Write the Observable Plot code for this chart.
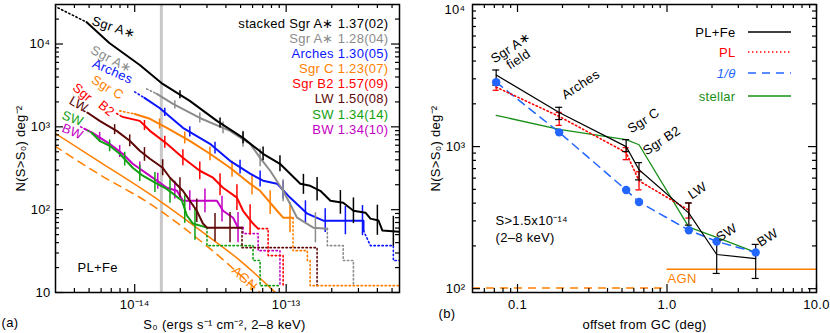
<!DOCTYPE html>
<html><head><meta charset="utf-8">
<script src="https://cdn.jsdelivr.net/npm/d3@7"></script>
<script src="https://cdn.jsdelivr.net/npm/@observablehq/plot@0.6"></script>
<style>
body{margin:0;background:#fff;}
#wrap{display:flex;width:830px;height:333px;overflow:hidden;}
svg text{letter-spacing:0.3px;}
</style></head><body><div id="wrap"></div>
<script>
// ================= DATA : panel (a) cumulative N(>S) [S erg/s/cm2, N deg^-2] =================
const sCut = 1.5e-14;
const blackHead = [[2.95e-15,2.87e4],[4.8e-15,1.84e4]];
const blackBody = [[4.8e-15,1.84e4],[6.8e-15,1.03e4],[1.08e-14,5.58e3],[1.53e-14,3.3e3],[2.31e-14,2.06e3],[3.49e-14,1.18e3],[5.19e-14,736],[7.04e-14,473],[9.1e-14,358],[1.24e-13,206],[1.44e-13,194],[1.68e-13,169],[1.96e-13,128],[2.38e-13,121],[2.78e-13,97],[3.34e-13,92],[3.6e-13,78],[4.07e-13,74],[4.32e-13,56],[5.6e-13,54]];
const blackTail = [];
const blackErrS = [1.99e-14,3.66e-14,5.19e-14,7.04e-14,9.1e-14,1.3e-13,1.6e-13,2.28e-13,2.78e-13,4.0e-13,5.1e-13];
const blackErrF = [1.12,1.15,1.18,1.21,1.25,1.32,1.39,1.39,1.43,1.52,1.52];

const greyHead = [[1.2e-14,2.87e3],[1.4e-14,2.5e3]];
const greyBody = [[1.4e-14,2.5e3],[1.79e-14,1.89e3],[2.69e-14,1.28e3],[4.26e-14,895],[5.78e-14,624],[6.73e-14,423],[7.84e-14,295],[9.55e-14,169],[1.06e-13,118],[1.18e-13,80],[1.51e-13,60.7],[1.87e-13,59]];
const greyTail = [[1.87e-13,59],[1.87e-13,36.8],[2.38e-13,36.8],[2.38e-13,24.3],[2.78e-13,24.3],[2.78e-13,12.1]];
const greyErrS = [1.84e-14,2.69e-14,3.83e-14,5.19e-14,6.73e-14,9.55e-14,1.56e-13];
const greyErrF = [1.12,1.15,1.18,1.25,1.28,1.36,1.52];

const blueHead = [[1.0e-14,2.64e3],[1.16e-14,2.24e3]];
const blueBody = [[1.16e-14,2.24e3],[1.46e-14,1.69e3],[2.08e-14,973],[3.14e-14,624],[4.26e-14,389],[5.78e-14,272],[7.04e-14,224],[8.7e-14,206],[1.06e-13,140],[1.38e-13,89.5],[1.76e-13,73.7],[3.24e-13,73.7],[3.24e-13,55.8]];
const blueTail = [[3.24e-13,55.8],[3.6e-13,36.8],[5.1e-13,36.8],[5.1e-13,24.3],[5.6e-13,24.3]];
const blueErrS = [1.58e-14,2.31e-14,3.39e-14,4.96e-14,6.73e-14,9.55e-14,1.34e-13,1.81e-13,2.46e-13,3.19e-13];
const blueErrF = [1.12,1.15,1.18,1.21,1.25,1.28,1.36,1.39,1.48,1.52];

const orangeHead = [[7.96e-15,1.56e3],[1.0e-14,1.43e3]];
const orangeBody = [[1.0e-14,1.43e3],[1.26e-14,1.25e3],[1.63e-14,973],[2.31e-14,678],[3.14e-14,473],[4.26e-14,321],[5.78e-14,206],[6.73e-14,169],[8.7e-14,97],[9.55e-14,80],[1.11e-13,80]];
const orangeTail = [[1.11e-13,80],[1.11e-13,32],[1.38e-13,32],[1.38e-13,24.3],[1.44e-13,24.3],[1.44e-13,12.1],[5.6e-13,12.1]];
const orangeErrS = [1.46e-14,2.14e-14,3.14e-14,4.39e-14,5.95e-14,7.84e-14,1.06e-13];
const orangeErrF = [1.15,1.18,1.21,1.25,1.32,1.39,1.52];

const redHead = [[7.6e-15,1.45e3],[8.3e-15,1.32e3]];
const redBody = [[8.3e-15,1.32e3],[1.08e-14,1.18e3],[1.26e-14,895],[1.63e-14,624],[2.08e-14,423],[2.69e-14,295],[3.29e-14,243],[3.83e-14,184],[4.73e-14,140],[5.19e-14,97],[6.04e-14,68],[6.53e-14,59]];
const redTail = [[6.53e-14,59],[7.6e-14,59],[7.6e-14,27.9],[9.55e-14,27.9],[9.55e-14,12.1]];
const redErrS = [1.16e-14,1.58e-14,2.08e-14,2.69e-14,3.66e-14,4.73e-14,5.78e-14];
const redErrF = [1.15,1.18,1.25,1.28,1.36,1.43,1.52];

const brownHead = [[4.6e-15,1.56e3],[4.89e-15,1.48e3]];
const brownBody = [[4.89e-15,1.48e3],[5.87e-15,1.18e3],[7.6e-15,895],[9.27e-15,678],[1.08e-14,514],[1.26e-14,412],[1.53e-14,321],[1.71e-14,243],[2.08e-14,169],[2.31e-14,128],[2.57e-14,97],[2.82e-14,68],[3.0e-14,60.7],[5.11e-14,60.7]];
const brownTail = [[5.11e-14,60.7],[5.11e-14,34.8],[1.6e-13,34.8],[1.6e-13,12.1]];
const brownErrS = [7.37e-15,9.27e-15,1.16e-14,1.53e-14,1.99e-14,2.57e-14,3.39e-14,4.26e-14];
const brownErrF = [1.15,1.18,1.21,1.25,1.32,1.39,1.48,1.52];

const greenHead = [[4.9e-15,900],[5.19e-15,847]];
const greenBody = [[5.19e-15,847],[5.87e-15,678],[6.83e-15,590],[7.96e-15,473],[9.7e-15,321],[1.13e-14,257],[1.4e-14,206],[1.58e-14,184],[1.79e-14,156],[2.05e-14,128],[2.21e-14,85],[2.42e-14,68],[3.0e-14,60.7]];
const greenTail = [[3.0e-14,60.7],[3.0e-14,36.8],[6.04e-14,36.8],[6.04e-14,24.3],[6.73e-14,24.3],[6.73e-14,12.1],[9.0e-14,12.1]];
const greenErrS = [6.83e-15,8.59e-15,1.08e-14,1.36e-14,1.71e-14,2.14e-14,2.5e-14];
const greenErrF = [1.18,1.21,1.25,1.32,1.39,1.48,1.56];

const magentaHead = [[4.4e-15,1.0e3],[4.67e-15,946]];
const magentaBody = [[4.67e-15,946],[5.27e-15,847],[6.83e-15,624],[8.33e-15,473],[9.7e-15,358],[1.4e-14,224],[1.63e-14,184],[1.9e-14,169],[2.08e-14,128],[3.49e-14,128],[3.83e-14,97],[4.46e-14,80],[4.81e-14,60.7],[5.19e-14,60.7]];
const magentaTail = [[5.19e-14,60.7],[5.19e-14,51.4],[6.53e-14,51.4],[6.53e-14,32],[9.1e-14,32],[9.1e-14,12.1]];
const magentaErrS = [5.87e-15,7.96e-15,1.08e-14,1.42e-14,1.84e-14,2.31e-14,2.91e-14,3.77e-14,4.81e-14];
const magentaErrF = [1.15,1.18,1.21,1.25,1.28,1.32,1.39,1.43,1.52];

const agnSolid = [[2.95e-15,847],[5.87e-15,378],[1.46e-14,128],[3.14e-14,46],[4.96e-14,24.3],[8.2e-14,10.6],[9.0e-14,9]];
const agnDashed = [[2.95e-15,590],[5.87e-15,265],[1.26e-14,118],[3.14e-14,33.9],[6.73e-14,10],[7.2e-14,9]];

const legendA = ["stacked Sgr A∗ 1.37(02)","Sgr A∗ 1.28(04)","Arches 1.30(05)","Sgr C 1.23(07)","Sgr B2 1.57(09)","LW 1.50(08)","SW 1.34(14)","BW 1.34(10)"];

// ================= DATA : panel (b) =================
const regionNames = ["Sgr A∗\nfield","Arches","Sgr C","Sgr B2","LW","SW","BW"];
const offsetDeg = [0.072, 0.19, 0.533, 0.65, 1.40, 2.15, 3.92];
const nPLFe   = [3190, 1740, 1000, 687, 340, 174, 163];
const nPLFeLo = [2710, 1550, 922, 583, 280, 128, 118];
const nPLFeHi = [3460, 1890, 1120, 771, 401, 212, 205];
const nPL     = [2620, 1630, 907, 574, 357];
const nPLLo   = [2490, 1410, 809, 496, 314];
const nPLHi   = [2890, 1740, 984, 665, 401];
const nTheta  = [2840, 1260, 495, 407, 258, 215, 180];
const nStellar= [1660, 1320, 1120, 1030, 271, 230, 180];
const agnLevelB = 137, agnFromB = 1.0;
const agnDashLevelB = 101, agnDashToB = 0.97;
const legendB = ["PL+Fe","PL","1/θ","stellar"];

// ================= helpers =================
const FONT = "'Liberation Sans', Arial, Helvetica, sans-serif";
const SUP = "⁻⁰¹²³⁴⁵⁶⁷⁸⁹";
const sup = s => String(s).replace(/[-0-9]/g, c => SUP["-0123456789".indexOf(c)]);
const fmtPow = d => { const e = Math.round(Math.log10(d)); return e === 1 ? "10" : "10" + sup(e); };
function curveAt(arr, S){
  for (let i = 0; i < arr.length - 1; i++){
    const [s0,n0] = arr[i], [s1,n1] = arr[i+1];
    if (S >= s0 && S <= s1){
      if (s1 === s0) return n0;
      const t = Math.log(S/s0)/Math.log(s1/s0);
      return Math.exp(Math.log(n0) + t*Math.log(n1/n0));
    }
  }
  return arr[arr.length-1][1];
}
const X0 = d => d[0], Y0 = d => d[1];
const DOT = "1.4,2.6";

function frameTicks(xMaj, xMin, yMaj, yMin, iw, ih){
  const st = {stroke:"#000", strokeWidth:1.2};
  const tx = (v,l) => [Plot.tickX(v,{x:d=>d, insetTop: ih-l, ...st}), Plot.tickX(v,{x:d=>d, insetBottom: ih-l, ...st})];
  const ty = (v,l) => [Plot.tickY(v,{y:d=>d, insetRight: iw-l, ...st}), Plot.tickY(v,{y:d=>d, insetLeft: iw-l, ...st})];
  return [...tx(xMaj,8), ...tx(xMin,4), ...ty(yMaj,8), ...ty(yMin,4)];
}

// ================= panel (a) =================
const LM = {top:4, right:16, bottom:41, left:55};
const LWd = 415, LHt = 333;
const liw = LWd - LM.left - LM.right, lih = LHt - LM.top - LM.bottom;
const annA = (txt, px, py, o) => Plot.text([txt], {text:d=>d, frameAnchor:"top-left", dx: px-LM.left, dy: py-LM.top, textAnchor:"middle", lineAnchor:"middle", fontSize:13, ...o});

const seriesA = [
  {c:"#c400c4", head:magentaHead, body:magentaBody, tail:magentaTail, es:magentaErrS, ef:magentaErrF},
  {c:"#10a010", head:greenHead, body:greenBody, tail:greenTail, es:greenErrS, ef:greenErrF},
  {c:"#5e0808", head:brownHead, body:brownBody, tail:brownTail, es:brownErrS, ef:brownErrF},
  {c:"#ff0000", head:redHead, body:redBody, tail:redTail, es:redErrS, ef:redErrF},
  {c:"#ff7f00", head:orangeHead, body:orangeBody, tail:orangeTail, es:orangeErrS, ef:orangeErrF},
  {c:"#0a14ff", head:blueHead, body:blueBody, tail:blueTail, es:blueErrS, ef:blueErrF},
  {c:"#8c8c8c", head:greyHead, body:greyBody, tail:greyTail, es:greyErrS, ef:greyErrF},
  {c:"#000000", head:blackHead, body:blackBody, tail:blackTail, es:blackErrS, ef:blackErrF}
];
const legendColorsA = ["#000000","#8c8c8c","#0a14ff","#ff7f00","#ff0000","#5e0808","#10a010","#c400c4"];

const marksA = [
  Plot.ruleX([sCut], {x:d=>d, stroke:"#c8c8c8", strokeWidth:3}),
  Plot.line(agnSolid, {x:X0, y:Y0, stroke:"#ff7f00", strokeWidth:1.5, curve:"monotone-x", clip:true}),
  Plot.line(agnDashed, {x:X0, y:Y0, stroke:"#ff7f00", strokeWidth:1.5, strokeDasharray:"8,6", curve:"monotone-x", clip:true})
];
for (const s of seriesA){
  marksA.push(Plot.line(s.tail, {x:X0, y:Y0, stroke:s.c, strokeWidth:1.6, strokeDasharray:DOT, clip:true}));
}
for (const s of seriesA){
  marksA.push(Plot.line(s.head, {x:X0, y:Y0, stroke:s.c, strokeWidth:1.6, strokeDasharray:DOT, clip:true}));
  marksA.push(Plot.line(s.body, {x:X0, y:Y0, stroke:s.c, strokeWidth:2, clip:true}));
  const eb = s.es.map((S,i) => { const n = curveAt(s.body, S); return {S, lo:n/s.ef[i], hi:n*s.ef[i]}; });
  marksA.push(Plot.ruleX(eb, {x:"S", y1:"lo", y2:"hi", stroke:s.c, strokeWidth:1.5, clip:true}));
}
// legend
const legYA = [23,38,53,68,83,98,114,129];
legendA.forEach((t,i) => marksA.push(annA(t, 388, legYA[i], {textAnchor:"end", fill:legendColorsA[i]})));
// curve labels
marksA.push(
  annA("Sgr A∗", 113, 27, {rotate:18, fill:"#000"}),
  annA("Sgr A∗", 111, 59, {rotate:28, fill:"#8c8c8c"}),
  annA("Arches", 112, 71, {rotate:24, fill:"#0a14ff"}),
  annA("Sgr C", 107, 87, {rotate:31, fill:"#ff7f00"}),
  annA("Sgr", 82, 92, {rotate:40, fill:"#ff0000"}),
  annA("B2", 106, 108, {rotate:40, fill:"#ff0000"}),
  annA("LW", 78, 104, {rotate:30, fill:"#5e0808"}),
  annA("SW", 72, 118, {rotate:20, fill:"#10a010"}),
  annA("BW", 72, 131, {rotate:23, fill:"#c400c4"}),
  annA("AGN", 244, 278, {rotate:43, fill:"#ff7f00"}),
  annA("PL+Fe", 77, 267, {textAnchor:"start"}),
  annA("(a)", 1, 322, {textAnchor:"start"}),
  annA("S₀ (ergs s⁻¹ cm⁻², 2–8 keV)", 224, 324),
  annA("N(S>S₀) deg⁻²", 20, 148, {rotate:-90})
);
const xMinA = [...[4,5,6,7,8,9].map(k=>k*1e-15), ...[2,3,4,5,6,7,8,9].map(k=>k*1e-14), ...[2,3,4,5].map(k=>k*1e-13)];
const yMinA = [...[2,3,4,5,6,7,8,9].map(k=>k*10), ...[2,3,4,5,6,7,8,9].map(k=>k*100), ...[2,3,4,5,6,7,8,9].map(k=>k*1000), 2e4];
marksA.push(...frameTicks([1e-14,1e-13], xMinA, [10,100,1000,10000], yMinA, liw, lih));
marksA.push(
  Plot.axisX({ticks:[1e-14,1e-13], tickSize:0, tickPadding:7, tickFormat:fmtPow, fontSize:13, label:null}),
  Plot.axisY({ticks:[10,100,1000,10000], tickSize:0, tickPadding:5, tickFormat:fmtPow, fontSize:13, label:null}),
  Plot.frame({stroke:"#000", strokeWidth:1.5})
);

const plotA = Plot.plot({
  width:LWd, height:LHt, marginTop:LM.top, marginRight:LM.right, marginBottom:LM.bottom, marginLeft:LM.left,
  x:{type:"log", domain:[3e-15,5.6e-13]},
  y:{type:"log", domain:[10,3e4]},
  style:{fontFamily:FONT, fontSize:"13px", color:"#000", background:"#fff", overflow:"visible"},
  marks:marksA
});

// ================= panel (b) =================
const RM = {top:4, right:14, bottom:41, left:57};
const RWd = 415, RHt = 333;
const riw = RWd - RM.left - RM.right, rih = RHt - RM.top - RM.bottom;
const annB = (txt, px, py, o) => Plot.text([txt], {text:d=>d, frameAnchor:"top-left", dx: px-RM.left, dy: py-RM.top, textAnchor:"middle", lineAnchor:"middle", fontSize:13, ...o});
const BLUE = "#2266ff", GREEN = "#178f17";
const rowsB = offsetDeg.map((x,i) => ({x, fe:nPLFe[i], feLo:nPLFeLo[i], feHi:nPLFeHi[i], th:nTheta[i], st:nStellar[i]}));
const rowsPL = nPL.map((n,i) => ({x:offsetDeg[i], n, lo:nPLLo[i], hi:nPLHi[i]}));
const marksB = [
  Plot.ruleY([agnLevelB], {y:d=>d, x1:agnFromB, x2:10, stroke:"#ff7f00", strokeWidth:1.3}),
  Plot.ruleY([agnDashLevelB], {y:d=>d, x1:0.05, x2:agnDashToB, stroke:"#ff7f00", strokeWidth:1.5, strokeDasharray:"8,6"}),
  Plot.line(rowsB, {x:"x", y:"st", stroke:GREEN, strokeWidth:1.3}),
  Plot.line(rowsB, {x:"x", y:"th", stroke:BLUE, strokeWidth:1.5, strokeDasharray:"8,6"}),
  Plot.line(rowsPL, {x:"x", y:"n", stroke:"#ff0000", strokeWidth:1.6, strokeDasharray:"1.4,2.6"}),
  Plot.ruleX(rowsPL, {x:"x", y1:"lo", y2:"hi", stroke:"#ff0000", strokeWidth:1.3}),
  Plot.ruleY(rowsPL, {y:"lo", x1:"x", x2:"x", insetLeft:-3, insetRight:-3, stroke:"#ff0000", strokeWidth:1.3}),
  Plot.ruleY(rowsPL, {y:"hi", x1:"x", x2:"x", insetLeft:-3, insetRight:-3, stroke:"#ff0000", strokeWidth:1.3}),
  Plot.line(rowsB, {x:"x", y:"fe", stroke:"#000", strokeWidth:1.2}),
  Plot.ruleX(rowsB, {x:"x", y1:"feLo", y2:"feHi", stroke:"#000", strokeWidth:1.2}),
  Plot.ruleY(rowsB, {y:"feLo", x1:"x", x2:"x", insetLeft:-3.5, insetRight:-3.5, stroke:"#000", strokeWidth:1.2}),
  Plot.ruleY(rowsB, {y:"feHi", x1:"x", x2:"x", insetLeft:-3.5, insetRight:-3.5, stroke:"#000", strokeWidth:1.2}),
  Plot.dot(rowsB, {x:"x", y:"th", r:4.2, fill:BLUE, stroke:null})
];
const labPos = [[514,53],[580,84],[643,120],[661,140],[697,190],[726,232],[767,237]];
regionNames.forEach((t,i) => marksB.push(annB(t, labPos[i][0]-415, labPos[i][1], {rotate:-33, fill:"#000", lineHeight:1.05})));
const legColB = ["#000","#ff0000",BLUE,GREEN];
const legYB = [32,52,73,96];
legendB.forEach((t,i) => marksB.push(annB(t, 320, legYB[i], {textAnchor:"end", fill:legColB[i], fontStyle: i===2 ? "italic" : "normal"})));
marksB.push(
  annB("AGN", 252, 278, {textAnchor:"start", fill:"#ff7f00"}),
  annB("S>1.5x10⁻¹⁴", 80, 220, {textAnchor:"start"}),
  annB("(2–8 keV)", 80, 237, {textAnchor:"start"}),
  annB("(b)", 23, 313, {textAnchor:"start"}),
  annB("offset from GC (deg)", 229, 324),
  annB("N(S>S₀) deg⁻²", 20, 148, {rotate:-90})
);
const xMinB = [0.06,0.07,0.08,0.09,0.2,0.3,0.4,0.5,0.6,0.7,0.8,0.9,2,3,4,5,6,7,8,9];
const yMinB = [200,300,400,500,600,700,800,900,2000,3000,4000,5000,6000,7000,8000,9000];
marksB.push(...frameTicks([0.1,1,10], xMinB, [100,1000,10000], yMinB, riw, rih));
marksB.push(
  Plot.axisX({ticks:[0.1,1,10], tickSize:0, tickPadding:7, tickFormat:d => d < 1 ? "0.1" : d < 5 ? "1.0" : "10.0", fontSize:13, label:null}),
  Plot.axisY({ticks:[100,1000], tickSize:0, tickPadding:7, tickFormat:fmtPow, fontSize:13, label:null}),
  Plot.axisY({ticks:[10000], tickSize:0, tickPadding:7, tickFormat:fmtPow, fontSize:13, label:null, dy:5}),
  Plot.frame({stroke:"#000", strokeWidth:1.5})
);
const plotB = Plot.plot({
  width:RWd, height:RHt, marginTop:RM.top, marginRight:RM.right, marginBottom:RM.bottom, marginLeft:RM.left,
  x:{type:"log", domain:[0.05,10]},
  y:{type:"log", domain:[94,1e4]},
  style:{fontFamily:FONT, fontSize:"13px", color:"#000", background:"#fff", overflow:"visible"},
  marks:marksB
});
// legend sample lines (panel b)
const legDash = [null, "1.4,2.6", "8,6", null];
const gB = d3.select(plotB).append("g");
legendB.forEach((t,i) => {
  gB.append("line").attr("x1",333).attr("x2",376).attr("y1",legYB[i]).attr("y2",legYB[i])
    .attr("stroke",legColB[i]).attr("stroke-width", i===1 ? 1.6 : 1.4)
    .attr("stroke-dasharray", legDash[i]);
});

document.getElementById("wrap").append(plotA, plotB);
</script></body></html>
